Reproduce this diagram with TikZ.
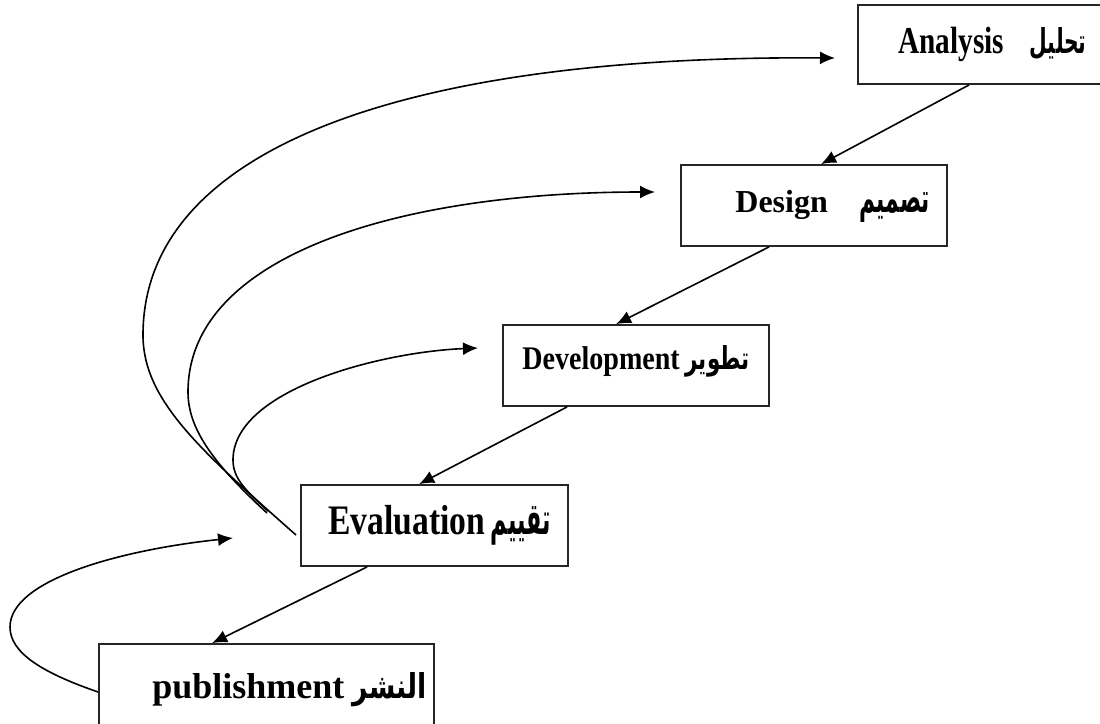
\documentclass[tikz,border=0pt]{standalone}
\usepackage{fontspec}
\setmainfont{Liberation Serif}
\newfontfamily\arabicfont[Script=Arabic]{DejaVu Sans}
\TeXXeTstate=1
\usetikzlibrary{arrows.meta}
\newcommand{\lat}[3]{{\fontsize{#1}{#1}\selectfont\bfseries\scalebox{#2}[1]{#3}}}
\newcommand{\arb}[3]{\resizebox{#1}{#2}{\arabicfont\bfseries\beginR #3\endR}}
\begin{document}
\begin{tikzpicture}[x=0.5pt,y=-0.5pt,
  box/.style={draw=black!85,line width=0.9pt,rectangle,inner sep=0pt,fill=none},
  arr/.style={draw=black,line width=0.8pt,-{Latex[length=7.5pt,width=6.5pt]}},
  lbl/.style={inner sep=0pt,anchor=base west},
  albl/.style={inner sep=0pt,anchor=base east}]
\fill[white] (0,0) rectangle (1100,724);
\useasboundingbox (0,0) rectangle (1100,724);
% boxes
\node[box,minimum width=123pt,minimum height=39.5pt] (an) at (981,44.5) {};
\node[box,minimum width=133pt,minimum height=40.5pt] (de) at (814,205.5) {};
\node[box,minimum width=133pt,minimum height=40.5pt] (dv) at (636,365.5) {};
\node[box,minimum width=133.5pt,minimum height=40.5pt] (ev) at (434.5,525.5) {};
\node[box,minimum width=167.5pt,minimum height=43pt] (pu) at (266.5,687) {};
% labels
\node[lbl] (anL) at (898,53) {\lat{19pt}{0.77}{Analysis}};
\node[albl] (anA) at (1087,53) {\arb{28.5pt}{13pt}{تحليل}};
\node[lbl] (deL) at (735,212) {\lat{16pt}{1}{Design}};
\node[albl] (deA) at (930,212) {\arb{35pt}{10pt}{تصميم}};
\node[lbl] (dvL) at (522,369) {\lat{16.5pt}{0.85}{Development}};
\node[albl] (dvA) at (750,369) {\arb{32pt}{12pt}{تطوير}};
\node[lbl] (evL) at (328,534) {\lat{21pt}{0.8}{Evaluation}};
\node[albl] (evA) at (551,534) {\arb{30pt}{14pt}{تقييم}};
\node[lbl] (puL) at (152,698) {\lat{18pt}{1}{publishment}};
\node[albl] (puA) at (427,698) {\arb{37pt}{13pt}{النشر}};
% straight connectors
\draw[arr] ([xshift=56pt]an.south west) -- ([xshift=70.5pt]de.north west);
\draw[arr] ([xshift=44.5pt]de.south west) -- ([xshift=57pt]dv.north west);
\draw[arr] ([xshift=32.5pt]dv.south west) -- ([xshift=59.5pt]ev.north west);
\draw[arr] ([xshift=33.5pt]ev.south west) -- ([xshift=57pt]pu.north west);
% feedback coordinates
\coordinate (o1) at (296,535);
\coordinate (o2) at (267,513);
\coordinate (o3) at (268,511);
\coordinate (o4) at ([yshift=-2.5pt]pu.west);
\coordinate (t1) at (835,58);
\coordinate (t2) at (655,192);
\coordinate (t3) at (478,348);
\coordinate (t4) at (233,538);
% feedback curves
\draw[arr] (o1) .. controls (200,450) and (143,400) .. (143,335) .. controls (143,150) and (400,55) .. (t1);
\draw[arr] (o2) .. controls (215,465) and (188,430) .. (188,392) .. controls (188,255) and (400,192) .. (t2);
\draw[arr] (o3) .. controls (245,490) and (233,478) .. (233,460) .. controls (233,390) and (380,352) .. (t3);
\draw[arr] (o4) .. controls (40,672) and (10,652) .. (10,627) .. controls (10,580) and (120,550) .. (t4);
\end{tikzpicture}
\end{document}
